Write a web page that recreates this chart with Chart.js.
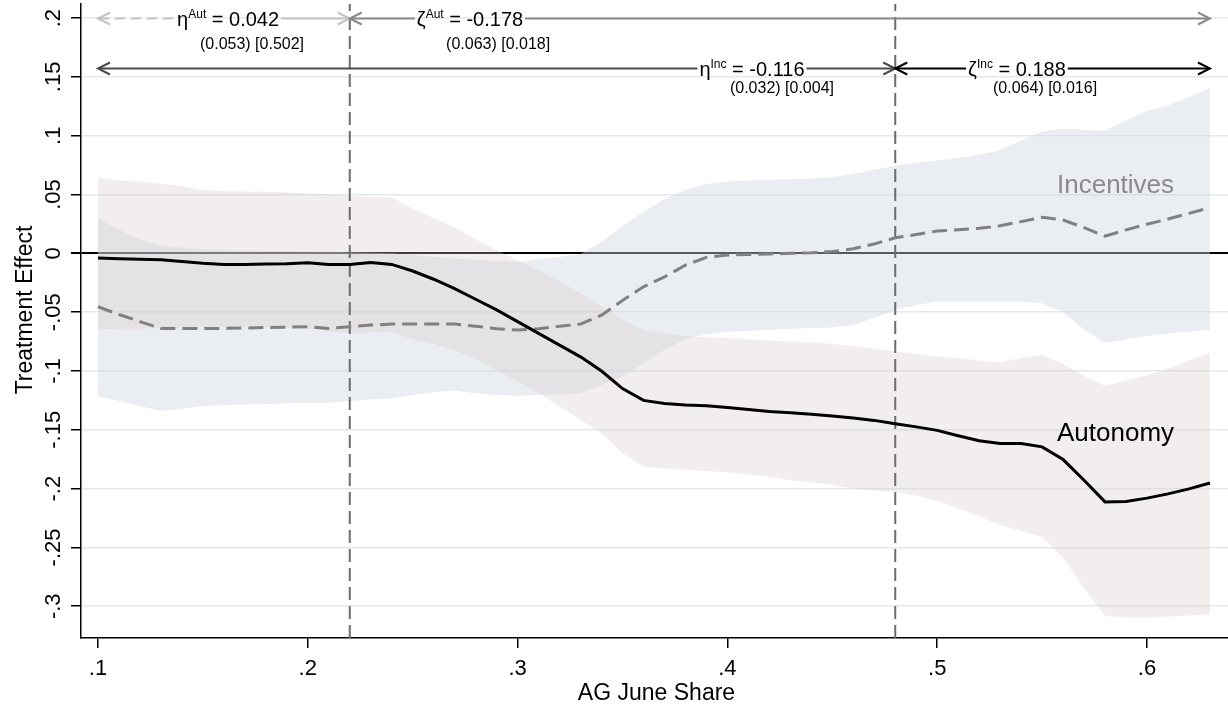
<!DOCTYPE html>
<html>
<head>
<meta charset="utf-8">
<script src="https://cdn.jsdelivr.net/npm/chart.js@4.4.0/dist/chart.umd.min.js"></script>
<style>
html,body{margin:0;padding:0;background:#ffffff;}
#wrap{width:1228px;height:712px;position:relative;}
</style>
</head>
<body>
<div id="wrap"><canvas id="c" width="1228" height="712"></canvas></div>
<script>
// ---------------- data ----------------
const shares = [0.10,0.11,0.12,0.13,0.14,0.15,0.16,0.17,0.18,0.19,
                0.20,0.21,0.22,0.23,0.24,0.25,0.26,0.27,0.28,0.29,
                0.30,0.31,0.32,0.33,0.34,0.35,0.36,0.37,0.38,0.39,
                0.40,0.41,0.42,0.43,0.44,0.45,0.46,0.47,0.48,0.49,
                0.50,0.51,0.52,0.53,0.54,0.55,0.56,0.57,0.58,0.59,
                0.60,0.61,0.62,0.63];

const autonomy = [-0.004,-0.0045,-0.005,-0.0054,-0.007,-0.0085,-0.0094,-0.0094,-0.009,-0.0088,
                  -0.008,-0.0094,-0.0094,-0.0077,-0.0094,-0.015,-0.022,-0.030,-0.039,-0.048,
                  -0.058,-0.068,-0.078,-0.088,-0.100,-0.115,-0.125,-0.1276,-0.129,-0.1296,
                  -0.131,-0.1327,-0.1344,-0.1355,-0.1367,-0.1383,-0.140,-0.142,-0.1449,-0.1475,
                  -0.1505,-0.155,-0.1593,-0.1616,-0.1616,-0.1645,-0.1753,-0.1929,-0.2113,-0.211,
                  -0.2081,-0.2045,-0.2002,-0.1952];

const autonomyHi = [0.0643,0.062,0.061,0.0595,0.057,0.0538,0.053,0.0525,0.0524,0.052,
                    0.051,0.0504,0.049,0.048,0.0476,0.038,0.030,0.0221,0.012,0.0028,
                    -0.006,-0.0142,-0.024,-0.034,-0.045,-0.056,-0.0652,-0.068,-0.0705,-0.071,
                    -0.072,-0.073,-0.074,-0.075,-0.0755,-0.077,-0.079,-0.081,-0.0833,-0.0855,
                    -0.0877,-0.089,-0.091,-0.0926,-0.089,-0.0862,-0.094,-0.104,-0.1125,-0.108,
                    -0.1037,-0.098,-0.091,-0.0848];

const autonomyLo = [-0.0646,-0.064,-0.064,-0.0638,-0.063,-0.0625,-0.0624,-0.0624,-0.0624,-0.063,
                    -0.064,-0.066,-0.068,-0.067,-0.0667,-0.073,-0.077,-0.0822,-0.090,-0.0992,
                    -0.109,-0.119,-0.130,-0.1418,-0.153,-0.170,-0.1815,-0.183,-0.184,-0.185,
                    -0.186,-0.188,-0.190,-0.193,-0.1945,-0.197,-0.2002,-0.2015,-0.203,-0.206,
                    -0.2104,-0.217,-0.2235,-0.2309,-0.236,-0.2411,-0.2586,-0.285,-0.3083,-0.3095,
                    -0.3098,-0.3088,-0.3078,-0.3068];

const incentives = [-0.0454,-0.052,-0.058,-0.0638,-0.0638,-0.0638,-0.0638,-0.0635,-0.063,-0.0628,
                    -0.0624,-0.0638,-0.0624,-0.061,-0.0601,-0.0601,-0.0601,-0.0601,-0.062,-0.064,
                    -0.0652,-0.064,-0.062,-0.0601,-0.0525,-0.040,-0.0284,-0.020,-0.010,-0.0034,
                    -0.0014,-0.001,-0.0005,0.0,0.0005,0.0015,0.004,0.008,0.0132,0.016,
                    0.019,0.020,0.0213,0.0234,0.027,0.0307,0.0283,0.0219,0.0146,0.020,
                    0.0248,0.0292,0.034,0.0389];

const incentivesHi = [0.0298,0.020,0.012,0.0065,0.005,0.0035,0.0028,0.0025,0.0022,0.002,
                      0.0018,0.0014,0.001,0.0005,0.0,-0.0014,-0.003,-0.0043,-0.0055,-0.0065,
                      -0.0071,-0.005,-0.003,-0.0006,0.0099,0.023,0.0354,0.046,0.054,0.059,
                      0.061,0.062,0.0625,0.063,0.0635,0.065,0.0675,0.071,0.0745,0.077,
                      0.0789,0.081,0.0838,0.0877,0.096,0.1037,0.106,0.105,0.1043,0.113,
                      0.1213,0.1257,0.133,0.1405];

const incentivesLo = [-0.1213,-0.1255,-0.130,-0.1338,-0.132,-0.130,-0.129,-0.1285,-0.128,-0.1275,
                      -0.127,-0.127,-0.1255,-0.124,-0.1233,-0.1205,-0.118,-0.1168,-0.119,-0.1205,
                      -0.1211,-0.1205,-0.120,-0.119,-0.112,-0.105,-0.0935,-0.082,-0.073,-0.0685,
                      -0.0667,-0.066,-0.065,-0.064,-0.0635,-0.063,-0.061,-0.055,-0.0482,-0.044,
                      -0.0409,-0.0409,-0.0409,-0.0409,-0.0409,-0.0424,-0.050,-0.065,-0.0759,-0.073,
                      -0.0702,-0.068,-0.0665,-0.0652];

const cutoffs = [0.22, 0.48];

const xTicks = [0.1, 0.2, 0.3, 0.4, 0.5, 0.6];
const xTickLabels = ['.1', '.2', '.3', '.4', '.5', '.6'];
const yTicks = [0.2, 0.15, 0.1, 0.05, 0, -0.05, -0.1, -0.15, -0.2, -0.25, -0.3];
const yTickLabels = ['.2', '.15', '.1', '.05', '0', '-.05', '-.1', '-.15', '-.2', '-.25', '-.3'];

const estSymbols = ['η', 'ζ', 'η', 'ζ'];
const estGroups  = ['Aut', 'Aut', 'Inc', 'Inc'];
const estValues  = ['0.042', '-0.178', '-0.116', '0.188'];
const estStats   = ['(0.053) [0.502]', '(0.063) [0.018]', '(0.032) [0.004]', '(0.064) [0.016]'];
const estFrom    = [0.10, 0.22, 0.10, 0.48];
const estTo      = [0.22, 0.63, 0.48, 0.63];

const seriesNames = ['Incentives', 'Autonomy'];
const xTitle = 'AG June Share';
const yTitle = 'Treatment Effect';

// ---------------- layout / style ----------------
const X_MIN = 0.0919, X_MAX = 0.6386;
const Y_MIN = -0.327, Y_MAX = 0.212;
const FONT = '"Liberation Sans", Arial, Helvetica, sans-serif';

const pts = ys => shares.map((x, i) => ({x: x, y: ys[i]}));
const vline = v => [{x: v, y: Y_MIN}, {x: v, y: Y_MAX}];

const bandBase = {borderColor: 'transparent', borderWidth: 0, pointRadius: 0, tension: 0};

const datasets = [
  Object.assign({}, bandBase, {label: 'incLo', data: pts(incentivesLo), fill: false, order: 11}),
  Object.assign({}, bandBase, {label: 'incHi', data: pts(incentivesHi), fill: '-1',
    backgroundColor: 'rgba(205,213,221,0.42)', order: 10}),
  Object.assign({}, bandBase, {label: 'autLo', data: pts(autonomyLo), fill: false, order: 9}),
  Object.assign({}, bandBase, {label: 'autHi', data: pts(autonomyHi), fill: '-1',
    backgroundColor: 'rgba(216,198,198,0.30)', order: 8}),
  {label: 'cut1', data: vline(cutoffs[0]), borderColor: '#6c6c6c', borderWidth: 2,
    borderDash: [13, 6], pointRadius: 0, fill: false, order: 4},
  {label: 'cut2', data: vline(cutoffs[1]), borderColor: '#6c6c6c', borderWidth: 2,
    borderDash: [13, 6], pointRadius: 0, fill: false, order: 4},
  {label: seriesNames[0], data: pts(incentives), borderColor: '#808080', borderWidth: 3,
    borderDash: [15, 7], pointRadius: 0, fill: false, tension: 0, order: 2},
  {label: seriesNames[1], data: pts(autonomy), borderColor: '#000000', borderWidth: 3,
    pointRadius: 0, fill: false, tension: 0, order: 1}
];

function drawLabel(ctx, cx, baseY, sym, sup, rest) {
  const mainF = '20px ' + FONT, supF = '12px ' + FONT;
  ctx.font = mainF; const w1 = ctx.measureText(sym).width; const w3 = ctx.measureText(rest).width;
  ctx.font = supF; const w2 = ctx.measureText(sup).width;
  const W = w1 + w2 + w3; const L = cx - W / 2;
  ctx.fillStyle = '#000'; ctx.textAlign = 'left'; ctx.textBaseline = 'alphabetic';
  ctx.font = mainF; ctx.fillText(sym, L, baseY);
  ctx.font = supF; ctx.fillText(sup, L + w1, baseY - 8);
  ctx.font = mainF; ctx.fillText(rest, L + w1 + w2, baseY);
  return [L, L + W];
}

function chevron(ctx, x, y, dir) {
  ctx.beginPath();
  ctx.moveTo(x - dir * 12, y - 6);
  ctx.lineTo(x, y);
  ctx.lineTo(x - dir * 12, y + 6);
  ctx.stroke();
}

const annotPlugin = {
  id: 'annot',
  afterDraw(chart) {
    const ctx = chart.ctx, xs = chart.scales.x, ys = chart.scales.y, ca = chart.chartArea;
    ctx.save();
    // y tick labels (rotated, Stata style)
    ctx.fillStyle = '#000';
    ctx.font = '22px ' + FONT;
    ys.ticks.forEach((t, i) => {
      const py = ys.getPixelForValue(t.value);
      ctx.save();
      ctx.translate(60, py);
      ctx.rotate(-Math.PI / 2);
      ctx.textAlign = 'center'; ctx.textBaseline = 'alphabetic';
      ctx.fillText(yTickLabels[i], 0, 0);
      ctx.restore();
    });
    // y title
    ctx.save();
    ctx.font = '23px ' + FONT;
    ctx.translate(32, 310);
    ctx.rotate(-Math.PI / 2);
    ctx.textAlign = 'center'; ctx.textBaseline = 'alphabetic';
    ctx.fillText(yTitle, 0, 0);
    ctx.restore();
    // x title
    ctx.font = '23px ' + FONT;
    ctx.textAlign = 'center'; ctx.textBaseline = 'alphabetic';
    ctx.fillText(xTitle, (ca.left + ca.right) / 2 + 2, 700);

    // series labels
    ctx.textAlign = 'left';
    ctx.font = '26px ' + FONT;
    ctx.fillStyle = '#8a8a8a';
    ctx.fillText(seriesNames[0], xs.getPixelForValue(0.5571), ys.getPixelForValue(0.0513));
    ctx.fillStyle = '#000';
    ctx.fillText(seriesNames[1], xs.getPixelForValue(0.5571), ys.getPixelForValue(-0.1596));

    // estimate arrows
    const rowVal = [0.2, 0.2, 0.1576, 0.1576];
    const mainCx = [0.162, 0.2773, 0.4117, 0.538];
    const subCx = [0.1734, 0.2907, 0.426, 0.5514];
    const colors = ['#c4c4c4', '#8a8a8a', '#4a4a4a', '#000000'];
    for (let i = 0; i < 4; i++) {
      const y = Math.round(ys.getPixelForValue(rowVal[i])) + 0.5;
      const x1 = xs.getPixelForValue(estFrom[i]);
      const x2 = xs.getPixelForValue(estTo[i]);
      const [L, R] = drawLabel(ctx, xs.getPixelForValue(mainCx[i]), y + 7,
        estSymbols[i], estGroups[i], ' = ' + estValues[i]);
      ctx.strokeStyle = colors[i];
      ctx.lineWidth = 2;
      ctx.beginPath();
      if (i === 0) ctx.setLineDash([10, 6]); else ctx.setLineDash([]);
      ctx.moveTo(x1 + 1, y); ctx.lineTo(L - 2, y); ctx.stroke();
      ctx.setLineDash([]);
      ctx.beginPath(); ctx.moveTo(R + 2, y); ctx.lineTo(x2 - 1, y); ctx.stroke();
      chevron(ctx, x1, y, -1);
      chevron(ctx, x2, y, 1);
      ctx.fillStyle = '#000';
      ctx.font = '16px ' + FONT;
      ctx.textAlign = 'center';
      ctx.fillText(estStats[i], xs.getPixelForValue(subCx[i]), y + (i < 2 ? 30 : 24));
    }
    ctx.restore();
  }
};

new Chart(document.getElementById('c'), {
  type: 'line',
  data: {datasets: datasets},
  options: {
    responsive: false,
    animation: false,
    devicePixelRatio: 1,
    layout: {padding: {top: 4, right: 0, left: 0, bottom: 0}},
    plugins: {legend: {display: false}, tooltip: {enabled: false}},
    elements: {line: {borderCapStyle: 'butt'}},
    scales: {
      x: {
        type: 'linear', min: X_MIN, max: X_MAX,
        afterBuildTicks: s => { s.ticks = xTicks.map(v => ({value: v})); },
        afterFit: s => { s.height = 74; },
        ticks: {
          autoSkip: false, maxRotation: 0, minRotation: 0, padding: 8,
          color: '#000', font: {family: FONT, size: 22},
          callback: (v, i) => xTickLabels[i]
        },
        grid: {drawOnChartArea: false, drawTicks: true, tickLength: 10, tickColor: '#000', lineWidth: 1.5},
        border: {display: true, color: '#000', width: 1.5}
      },
      y: {
        type: 'linear', min: Y_MIN, max: Y_MAX,
        afterBuildTicks: s => { s.ticks = yTicks.map(v => ({value: v})); },
        afterFit: s => { s.width = 81; },
        ticks: {display: false},
        grid: {
          drawTicks: true, tickLength: 10, tickColor: '#000',
          color: c => (c.tick && c.tick.value === 0) ? '#000000' : '#e2eaee',
          lineWidth: c => (c.tick && c.tick.value === 0) ? 2 : 1.5
        },
        border: {display: true, color: '#000', width: 1.5}
      }
    }
  },
  plugins: [annotPlugin]
});
</script>
</body>
</html>
